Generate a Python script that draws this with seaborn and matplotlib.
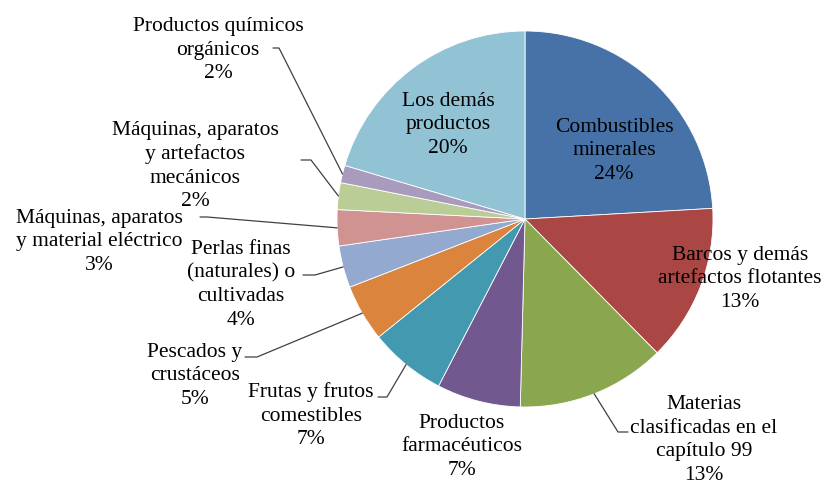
import numpy as np
import matplotlib.pyplot as plt
import seaborn as sns

# Export composition (share of total), clockwise from 12 o'clock
categories = [
    "Combustibles\nminerales",
    "Barcos y demás\nartefactos flotantes",
    "Materias\nclasificadas en el\ncapítulo 99",
    "Productos\nfarmacéuticos",
    "Frutas y frutos\ncomestibles",
    "Pescados y\ncrustáceos",
    "Perlas finas\n(naturales) o\ncultivadas",
    "Máquinas, aparatos\ny material eléctrico",
    "Máquinas, aparatos\ny artefactos\nmecánicos",
    "Productos químicos\norgánicos",
    "Los demás\nproductos",
]
shares = [24.1, 13.5, 12.8, 7.2, 6.6, 4.9, 3.6, 3.1, 2.3, 1.5, 20.4]
pct_labels = ["24%", "13%", "13%", "7%", "7%", "5%", "4%", "3%", "2%", "2%", "20%"]

colors = ["#4672A8", "#AA4644", "#8AA64F", "#71598F", "#4299B0", "#DB843D",
          "#93A9D0", "#D09392", "#BACD96", "#A99BBD", "#92C3D5"]

# label centres in pixel coords (y downward)
label_xy = [(614, 151), (740, 279), (704, 440), (462, 447), (311, 416),
            (195, 376), (241, 285), (99, 242), (195, 166), (218, 50), (448, 125)]
# leader stubs next to the label text (None = label sits inside the pie)
stubs = [None, None, [(628, 433), (618, 433)], None, [(378, 398), (387, 398)],
         [(245, 358), (257, 358)], [(303, 276), (315, 276)],
         [(200, 218), (207, 218)], [(301, 161), (311, 161)],
         [(273, 49), (279, 49)], None]

sns.set_theme(style="white")
plt.rcParams["font.family"] = ["Liberation Serif", "DejaVu Serif"]

fig = plt.figure(figsize=(8.22, 4.85), dpi=100)
ax = fig.add_axes([0, 0, 1, 1])

center = (525, 220)
radius = 188
wedges, _ = ax.pie(shares, colors=colors, startangle=-90, counterclock=True,
                   center=center, radius=radius,
                   wedgeprops=dict(edgecolor="white", linewidth=0.6))

ax.set_xlim(0, 822)
ax.set_ylim(485, 0)
ax.set_aspect("equal")
ax.axis("off")

for w, name, pct, (x, y), stub in zip(wedges, categories, pct_labels, label_xy, stubs):
    ax.text(x, y, name + "\n" + pct, ha="center", va="center",
            fontsize=15.5, linespacing=1.32, color="black")
    if stub is not None:
        mid = np.deg2rad((w.theta1 + w.theta2) / 2)
        edge = (center[0] + radius * np.cos(mid), center[1] + radius * np.sin(mid))
        xs = [p[0] for p in stub] + [edge[0]]
        ys = [p[1] for p in stub] + [edge[1]]
        ax.plot(xs, ys, color="#404040", lw=0.9)

fig.savefig("out.png", dpi=100)
